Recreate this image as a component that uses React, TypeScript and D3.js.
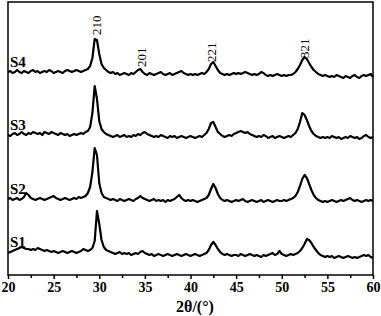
import React, { useEffect, useRef } from 'react';
import * as d3 from 'd3';

// 2θ sampled every 0.25° from 20 to 60 (161 points)
const twoTheta: number[] = d3.range(0, 161).map(i => 20 + i * 0.25);

// relative intensities (a.u.)
const s1: number[] = [
  -1, 0, 1, 2, 3, 4, 5, 4, 3, 3, 2, 3, 2, 4, 3, 2, 1, 2, 1, 0,
  1, 0, -1, 0, 1, 0, -1, 0, 1, 0, -1, 0, 1, 3, 2, 1, 2, 4, 11, 41,
  28, 12, 5, 2, 1, 0, -1, -2, -1, 0, -2, -1, -2, -1, -3, -2, -1, -2, 0, 1,
  -1, -2, -3, -2, -4, -3, -2, -3, -4, -3, -2, -3, -4, -3, -2, -3, -4, -3, -2, -3,
  -4, -3, -2, -3, -4, -3, -2, -1, 2, 7, 10, 7, 3, 0, -2, -3, -2, -3, -4, -3,
  -3, -4, -2, -3, -4, -3, -2, -3, -4, -3, -4, -5, -3, -4, -3, -2, -1, -3, -2, 1,
  -2, -3, -4, -3, -2, -3, -2, -1, 1, 4, 8, 13, 12, 9, 5, 2, -1, -3, -4, -5,
  -4, -5, -4, -6, -5, -4, -5, -6, -5, -4, -5, -6, -5, -6, -5, -4, -3, -4, -3, -5,
  -6,
];
const s2: number[] = [
  0, 1, -1, 0, 1, -1, 0, 2, 6, 4, 1, 0, -1, 0, 1, 0, -1, 0, 1, 2,
  3, 1, 0, -1, 0, 1, 0, -1, 0, 1, 0, 2, 1, 2, 3, 6, 12, 27, 51, 44,
  16, 6, 2, 1, 0, -1, 0, -1, -2, 0, -1, -2, -1, 0, -1, -2, 0, 1, 3, 1,
  0, -1, -2, -1, 0, -2, -1, -2, -1, -3, -1, -2, -1, 0, 2, 4, 1, -1, -2, -1,
  -2, -1, -2, -3, -2, -1, 0, 1, 4, 10, 15, 11, 5, 1, -1, -2, -1, -2, -3, -2,
  -1, -2, -1, 0, -2, -3, -2, -1, -2, -3, -2, -1, -3, -2, -1, -2, -3, -2, -1, -2,
  -2, -1, -2, -1, 0, 1, 3, 7, 13, 20, 24, 21, 15, 9, 4, 1, -1, -2, -3, -2,
  -3, -2, -1, -2, -3, -2, -1, -2, -1, 0, 1, -1, -2, -1, -2, -3, -2, -1, -2, -1,
  -2,
];
const s3: number[] = [
  0, -1, 1, 2, 0, 1, 3, 1, 0, 2, 1, 3, 2, 1, 2, 0, 3, 2, 1, 3,
  2, 1, 0, 2, 1, 0, 1, -1, 0, 1, 0, 1, 2, 1, 3, 4, 8, 22, 49, 36,
  14, 6, 3, 1, 0, -1, -2, -1, 0, -2, -1, 0, -2, -1, -2, 0, -1, 1, 0, 2,
  3, 1, 0, -1, -2, -1, -2, 0, -1, -2, -3, -1, -2, -1, -3, -2, -1, -2, -3, -2,
  -1, -2, -3, -2, -1, -2, 0, 2, 6, 12, 13, 8, 3, 1, -1, -2, -1, 0, -1, 1,
  2, 3, 4, 3, 2, 3, 1, 0, -1, -2, -1, -2, 0, -1, -3, -2, -1, -3, -2, -1,
  -2, -3, -2, -1, -2, 0, 2, 6, 13, 22, 20, 15, 9, 4, 1, -1, -2, -3, -2, -3,
  -2, -3, -1, -2, -3, -2, -4, -3, -2, -3, -1, -2, -3, -2, -4, -3, -1, 0, -2, -3,
  -2,
];
const s4: number[] = [
  0, 1, -1, 0, 2, 0, -1, 1, 0, -1, 1, 2, 0, 1, -1, 0, 1, 0, 2, 1,
  -1, 0, 1, 0, -1, 1, 2, 1, 0, 1, 2, 1, 0, 1, 2, 3, 6, 14, 33, 32,
  18, 8, 4, 2, 0, -1, 0, -2, -1, -3, -2, -1, -2, -3, -1, -2, 0, 2, 3, 0,
  -2, -3, -1, -2, -3, -2, -1, 0, -2, -3, -2, -1, -3, -2, -1, 0, 1, -1, -2, -3,
  -2, -3, -2, -3, -2, -1, -2, 0, 3, 8, 10, 6, 2, -1, -2, -3, -2, -3, -2, -1,
  -2, -1, -2, -1, 0, -1, -2, -3, -2, -3, -2, 0, -1, -3, -4, -3, -4, -3, -2, -3,
  -4, -3, -4, -3, -3, -2, 0, 3, 7, 12, 15, 13, 9, 5, 2, 0, -2, -3, -4, -3,
  -4, -5, -4, -5, -3, -4, -5, -6, -4, -5, -6, -4, -3, -5, -6, -4, -3, -4, -3, -2,
  -5,
];

const seriesNames = ['S1', 'S2', 'S3', 'S4'];
const seriesValues = [s1, s2, s3, s4];
const seriesOffsets = [23, 76, 140, 203];

const peakLabels = ['210', '201', '221', '321'];
const peakPositions = [29.75, 34.7, 42.4, 52.5];
const peakLabelBottoms = [240, 208, 213, 217]; // intensity units (bottom of rotated text)

const xTicks = [20, 25, 30, 35, 40, 45, 50, 55, 60];
const xMinorTicks = [22.5, 27.5, 32.5, 37.5, 42.5, 47.5, 52.5, 57.5];

const App = () => {
  const svgRef = useRef<SVGSVGElement>(null);

  useEffect(() => {
    const svgWidth = 381;
    const svgHeight = 316;
    const margin = { top: 2, right: 8, bottom: 41, left: 8 };

    const svg = d3.select(svgRef.current)
      .attr('width', svgWidth)
      .attr('height', svgHeight);
    svg.selectAll('*').remove();

    const x = d3.scaleLinear().domain([20, 60]).range([margin.left, svgWidth - margin.right]);
    const y = d3.scaleLinear().domain([0, 273]).range([svgHeight - margin.bottom, margin.top]);

    const font = "'Liberation Serif', 'Times New Roman', serif";

    // traces
    const line = d3.line<[number, number]>()
      .x(d => x(d[0]))
      .y(d => y(d[1]));

    seriesValues.forEach((vals, k) => {
      const pts: [number, number][] = vals.map((v, i) => [twoTheta[i], v + seriesOffsets[k]]);
      svg.append('path')
        .datum(pts)
        .attr('d', line)
        .attr('fill', 'none')
        .attr('stroke', '#000')
        .attr('stroke-width', 2.2)
        .attr('stroke-linejoin', 'round');

      svg.append('text')
        .attr('x', 10)
        .attr('y', y(seriesOffsets[k]) - 5)
        .attr('font-family', font)
        .attr('font-weight', 'bold')
        .attr('font-size', 15)
        .text(seriesNames[k]);
    });

    // peak labels
    peakLabels.forEach((lab, i) => {
      svg.append('text')
        .attr('transform', `translate(${x(peakPositions[i]) + 4}, ${y(peakLabelBottoms[i])}) rotate(-90)`)
        .attr('font-family', font)
        .attr('font-size', 13)
        .text(lab);
    });

    // frame
    svg.append('rect')
      .attr('x', margin.left)
      .attr('y', margin.top)
      .attr('width', svgWidth - margin.left - margin.right)
      .attr('height', svgHeight - margin.top - margin.bottom)
      .attr('fill', 'none')
      .attr('stroke', '#000')
      .attr('stroke-width', 1.5);

    // x axis
    const axisG = svg.append('g')
      .attr('transform', `translate(0, ${svgHeight - margin.bottom})`);
    axisG.call(
      d3.axisBottom(x).tickValues(xTicks).tickSize(4).tickPadding(3).tickFormat(d3.format('d'))
    );
    axisG.append('g').call(
      d3.axisBottom(x).tickValues(xMinorTicks).tickSize(3).tickFormat(() => '')
    );
    axisG.selectAll('.domain').remove();
    axisG.selectAll('line').attr('stroke', '#000').attr('stroke-width', 1.5);
    axisG.selectAll('text')
      .attr('font-family', font)
      .attr('font-weight', 'bold')
      .attr('font-size', 14)
      .attr('fill', '#000');

    svg.append('text')
      .attr('x', 195)
      .attr('y', 312)
      .attr('text-anchor', 'middle')
      .attr('font-family', font)
      .attr('font-weight', 'bold')
      .attr('font-size', 16)
      .text('2θ/(°)');
  }, []);

  return (
    <svg ref={svgRef} style={{ position: 'absolute', left: 0, top: 0 }}></svg>
  );
};

export default App;
